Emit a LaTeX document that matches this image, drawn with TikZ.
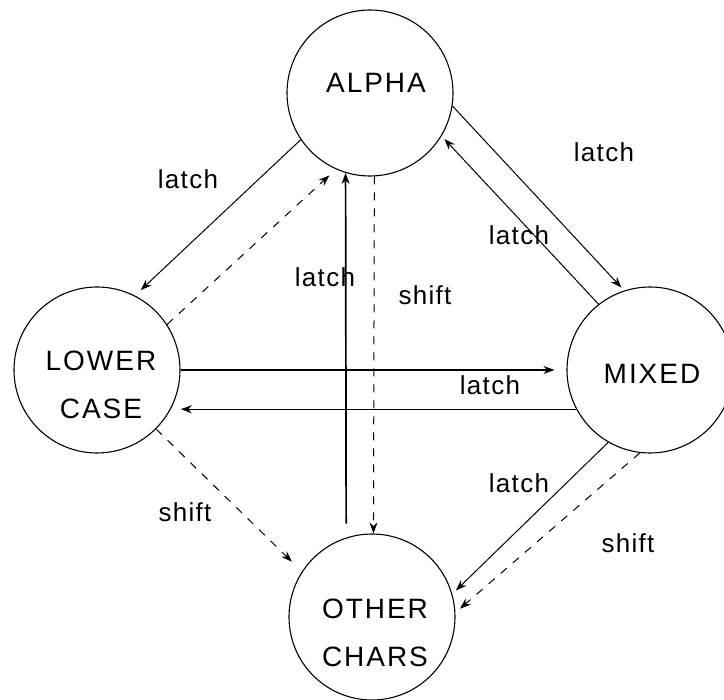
\documentclass[tikz,border=0pt]{standalone}
\usepackage{fontspec}
\setmainfont{Liberation Sans}
\usetikzlibrary{arrows.meta}
\begin{document}
\begin{tikzpicture}[x=1pt,y=-1pt,
  state/.style={draw,circle,line width=1.1pt,minimum size=166pt,inner sep=0pt},
  stxt/.style={font=\fontsize{28}{48}\selectfont\addfontfeatures{LetterSpace=7},align=center,inner sep=0pt},
  lab/.style={font=\fontsize{26}{30}\selectfont\addfontfeatures{LetterSpace=5},inner sep=0pt},
  edge/.style={line width=1pt,-{Stealth[length=11pt,width=8pt]}},
  dedge/.style={edge,dash pattern=on 8pt off 8pt}]
\useasboundingbox (0,0) rectangle (724,700);
\node[state] (alpha) at (370,93) {};
\node[state] (lower) at (97,370) {};
\node[state] (mixed) at (650,370) {};
\node[state] (other) at (372,617) {};
\node[stxt] (talpha) at (376,83) {ALPHA};
\node[stxt] (tlower) at (101,385) {LOWER\\CASE};
\node[stxt] (tmixed) at (652,374) {MIXED};
\node[stxt] (tother) at (375,633) {OTHER\\CHARS};
% edges
\draw[edge,shorten >=8pt] (alpha.214.6) -- (lower.63.7);
\draw[dedge,shorten >=9pt] (lower.33.3) -- (alpha.246.5);
\draw[edge,line width=1.7pt,shorten <=14pt] (other.108.4) -- (alpha.253);
\draw[dedge] (alpha.273) -- (other.89);
\draw[edge,shorten >=4pt] (alpha.-9.4) -- (mixed.108);
\draw[edge,shorten >=4pt] (mixed.128) -- (alpha.-31);
\draw[edge,line width=1.3pt,shorten >=12pt] (lower.0) -- (mixed.180);
\draw[edge,line width=1.3pt,shorten >=10pt] (mixed.208) -- (lower.-28);
\draw[edge,shorten >=5pt] (mixed.240) -- (other.16.4);
\draw[dedge,shorten >=6pt] (mixed.263.5) -- (other.3);
\draw[dedge,shorten >=14pt] (lower.-45.5) -- (other.147.6);
% labels
\node[lab] (l1) at (188,179) {latch};
\node[lab] (l2) at (325,277) {latch};
\node[lab] (l3) at (604,152) {latch};
\node[lab] (l4) at (519,235) {latch};
\node[lab] (l5) at (425,295) {shift};
\node[lab] (l6) at (490,385) {latch};
\node[lab] (l7) at (519,483) {latch};
\node[lab] (l8) at (185,512) {shift};
\node[lab] (l9) at (628,543) {shift};
\end{tikzpicture}
\end{document}
